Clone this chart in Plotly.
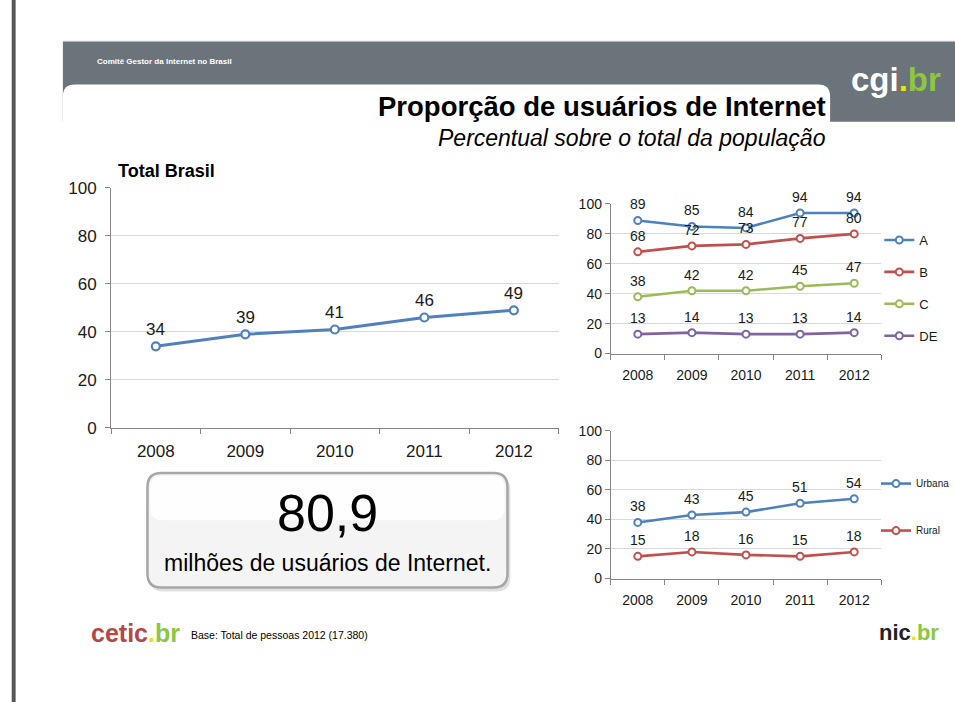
import plotly.graph_objects as go

W, H = 955, 702
FONT = "Liberation Sans, Arial, sans-serif"
LOGO = "Liberation Sans, Arial, sans-serif"

# ---------------- data ----------------
YEARS = ["2008", "2009", "2010", "2011", "2012"]
TOTAL_BRASIL = [34, 39, 41, 46, 49]
CLASSE_A = [89, 85, 84, 94, 94]
CLASSE_B = [68, 72, 73, 77, 80]
CLASSE_C = [38, 42, 42, 45, 47]
CLASSE_DE = [13, 14, 13, 13, 14]
URBANA = [38, 43, 45, 51, 54]
RURAL = [15, 18, 16, 15, 18]
CLASS_NAMES = ["A", "B", "C", "DE"]
AREA_NAMES = ["Urbana", "Rural"]

BLUE = "#4F81BD"
RED = "#C0504D"
GREEN = "#9BBB59"
PURPLE = "#8064A2"

XPOS = list(range(len(YEARS)))

# screen-position calibration (target pixel -> figure pixel)
SX, BX = 0.99, -1.9
SY, BY = 0.969, 10.8


def px(x):
    return ((x - BX) / SX) / W


def py(y):
    return 1 - ((y - BY) / SY) / H


fig = go.Figure()

# ---------------- traces ----------------
fig.add_trace(go.Scatter(
    x=XPOS, y=TOTAL_BRASIL, mode="lines+markers", name="Total Brasil",
    line=dict(color=BLUE, width=3),
    marker=dict(symbol="circle", size=8, color="white", line=dict(color=BLUE, width=2.2)),
    xaxis="x", yaxis="y", showlegend=False, hoverinfo="skip"))

for name, vals, col in zip(CLASS_NAMES, [CLASSE_A, CLASSE_B, CLASSE_C, CLASSE_DE],
                           [BLUE, RED, GREEN, PURPLE]):
    fig.add_trace(go.Scatter(
        x=XPOS, y=vals, mode="lines+markers", name=name,
        line=dict(color=col, width=2.6),
        marker=dict(symbol="circle", size=7, color="white", line=dict(color=col, width=2)),
        xaxis="x2", yaxis="y2", legend="legend", legendgroup=name, hoverinfo="skip"))

for name, vals, col in zip(AREA_NAMES, [URBANA, RURAL], [BLUE, RED]):
    fig.add_trace(go.Scatter(
        x=XPOS, y=vals, mode="lines+markers", name=name,
        line=dict(color=col, width=2.6),
        marker=dict(symbol="circle", size=7, color="white", line=dict(color=col, width=2)),
        xaxis="x3", yaxis="y3", legend="legend2", legendgroup=name, hoverinfo="skip"))

# ---------------- data labels ----------------
annotations = []


def add_labels(vals, xref, yref, size, shift):
    for xi, v in zip(XPOS, vals):
        annotations.append(dict(x=xi, y=v, xref=xref, yref=yref, text=str(v),
                                showarrow=False, yshift=shift,
                                font=dict(family=FONT, size=size, color="#1a1a1a")))


add_labels(TOTAL_BRASIL, "x", "y", 17, 17)
for vals in [CLASSE_A, CLASSE_B, CLASSE_C, CLASSE_DE]:
    add_labels(vals, "x2", "y2", 14, 16)
for vals in [URBANA, RURAL]:
    add_labels(vals, "x3", "y3", 14, 16)

# ---------------- axes ----------------
AX_LINE = "#868686"
GRID = "#D9D9D9"


def xaxis(domain, anchor, size, standoff):
    return dict(domain=domain, anchor=anchor, range=[-0.5, len(YEARS) - 0.5],
                tickmode="array", tickvals=XPOS, ticktext=YEARS, ticks="",
                minor=dict(ticks="outside", tick0=0.5, dtick=1, ticklen=5,
                           tickcolor=AX_LINE, showgrid=False),
                showline=True, linecolor=AX_LINE, linewidth=1,
                showgrid=False, zeroline=False, fixedrange=True,
                tickfont=dict(family=FONT, size=size, color="#1a1a1a"),
                ticklabelstandoff=standoff)


def yaxis(domain, anchor, size, standoff):
    return dict(domain=domain, anchor=anchor, range=[0, 100], dtick=20,
                showline=True, linecolor=AX_LINE, linewidth=1,
                ticks="outside", ticklen=5, tickcolor=AX_LINE,
                showgrid=True, gridcolor=GRID, gridwidth=1, zeroline=False,
                fixedrange=True, ticklabelstandoff=standoff,
                tickfont=dict(family=FONT, size=size, color="#1a1a1a"))


layout = dict(
    width=W, height=H, autosize=False,
    margin=dict(l=0, r=0, t=0, b=0),
    paper_bgcolor="white", plot_bgcolor="rgba(0,0,0,0)",
    xaxis=xaxis([px(111), px(566)], "y", 17, 8),
    yaxis=yaxis([py(428), py(189)], "x", 17, 5),
    xaxis2=xaxis([px(619), px(894)], "y2", 14, 9),
    yaxis2=yaxis([py(354), py(205)], "x2", 14, 0),
    xaxis3=xaxis([px(619), px(894)], "y3", 14, 9),
    yaxis3=yaxis([py(578), py(431)], "x3", 14, 0),
    legend=dict(x=px(892), y=py(226), xanchor="left", yanchor="top",
                tracegroupgap=12, bgcolor="rgba(0,0,0,0)",
                font=dict(family=FONT, size=13, color="#1a1a1a")),
    legend2=dict(x=px(889), y=py(469), xanchor="left", yanchor="top",
                 tracegroupgap=28, bgcolor="rgba(0,0,0,0)",
                 font=dict(family=FONT, size=10, color="#1a1a1a")),
)

# ---------------- shapes (slide decoration) ----------------
shapes = []
shapes.append(dict(type="rect", xref="paper", yref="paper",
                   x0=px(10), x1=px(14), y0=py(720), y1=py(-20),
                   fillcolor="#555555", line=dict(width=0), layer="below"))
shapes.append(dict(type="rect", xref="paper", yref="paper",
                   x0=px(62), x1=px(975), y0=py(123), y1=py(43),
                   fillcolor="#6B737B", line=dict(width=0), layer="below"))
shapes.append(dict(type="line", xref="paper", yref="paper",
                   x0=px(62), x1=px(975), y0=py(43), y1=py(43),
                   line=dict(color="#B8BDC2", width=1), layer="below"))
r = 12
tab = (f"M {px(62)},{py(126)} L {px(62)},{py(86 + r)} "
       f"Q {px(62)},{py(86)} {px(62 + r)},{py(86)} "
       f"L {px(842 - r)},{py(86)} Q {px(842)},{py(86)} {px(842)},{py(86 + r)} "
       f"L {px(842)},{py(126)} Z")
shapes.append(dict(type="path", xref="paper", yref="paper", path=tab,
                   fillcolor="white", line=dict(width=0), layer="below"))


def rounded(x0, y0, x1, y1, rr):
    return (f"M {px(x0 + rr)},{py(y0)} L {px(x1 - rr)},{py(y0)} "
            f"Q {px(x1)},{py(y0)} {px(x1)},{py(y0 + rr)} "
            f"L {px(x1)},{py(y1 - rr)} Q {px(x1)},{py(y1)} {px(x1 - rr)},{py(y1)} "
            f"L {px(x0 + rr)},{py(y1)} Q {px(x0)},{py(y1)} {px(x0)},{py(y1 - rr)} "
            f"L {px(x0)},{py(y0 + rr)} Q {px(x0)},{py(y0)} {px(x0 + rr)},{py(y0)} Z")


shapes.append(dict(type="path", xref="paper", yref="paper",
                   path=rounded(150, 476, 517, 591, 14),
                   fillcolor="rgba(0,0,0,0.12)", line=dict(width=0), layer="below"))
shapes.append(dict(type="path", xref="paper", yref="paper",
                   path=rounded(148, 473, 514, 587, 14),
                   fillcolor="#F4F4F4", line=dict(color="#A6A6A6", width=2.5), layer="below"))
shapes.append(dict(type="path", xref="paper", yref="paper",
                   path=rounded(151, 476, 511, 520, 12),
                   fillcolor="rgba(255,255,255,0.85)", line=dict(width=0), layer="below"))


# ---------------- texts ----------------
def txt(x, y, text, size, color="black", xanchor="left", family=FONT):
    annotations.append(dict(x=px(x), y=py(y), xref="paper", yref="paper", text=text,
                            showarrow=False, xanchor=xanchor, yanchor="middle",
                            font=dict(family=family, size=size, color=color)))


txt(95, 63, "<b>Comitê Gestor da Internet no Brasil</b>", 8, color="white")
txt(840, 108, "<b>Proporção de usuários de Internet</b>", 27.5, xanchor="right")
txt(840, 139, "<i>Percentual sobre o total da população</i>", 23, xanchor="right")
txt(116, 172, "<b>Total Brasil</b>", 18)
txt(331, 513, "80,9", 52, xanchor="center")
txt(331, 563, "milhões de usuários de Internet.", 23, xanchor="center")
txt(190, 634, "Base: Total de pessoas 2012 (17.380)", 10.5)

txt(909, 81, "<b>cgi<span style='color:#E6E600'>.</span><span style='color:#8DC63F'>br</span></b>",
    33, color="white", xanchor="center", family=LOGO)
txt(136, 632, "<b><span style='color:#B5474A'>cetic</span><span style='color:#E6E600'>.</span>"
    "<span style='color:#8DC63F'>br</span></b>", 25, xanchor="center", family=LOGO)
txt(922, 632, "<b><span style='color:#222222'>nic</span><span style='color:#E6E600'>.</span>"
    "<span style='color:#8DC63F'>br</span></b>", 22, xanchor="center", family=LOGO)

layout["shapes"] = shapes
layout["annotations"] = annotations
fig.update_layout(**layout)

fig.write_html("out.html",
               config={"displayModeBar": False},
               post_script="document.body.style.margin='0';"
                           "document.body.style.overflow='hidden';")
